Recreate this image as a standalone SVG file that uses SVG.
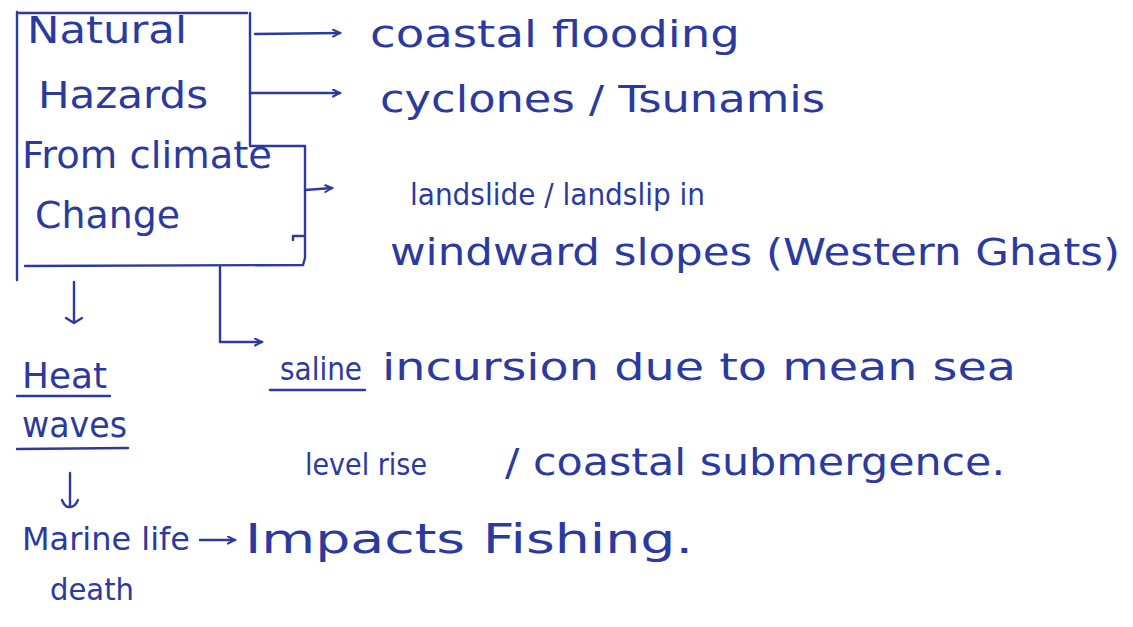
<svg xmlns="http://www.w3.org/2000/svg" width="1133" height="627" viewBox="0 0 1133 627">
  <defs>
    <marker id="arr" markerWidth="10" markerHeight="10" refX="8" refY="4" orient="auto" markerUnits="userSpaceOnUse">
      <path d="M1,0.5 L8,4 L1,7.5" fill="none" stroke="#2b3a9e" stroke-width="2" stroke-linecap="round"/>
    </marker>
  </defs>
  <style>
    .ink { fill: none; stroke: #2b3a9e; stroke-width: 2.4; stroke-linecap: round; stroke-linejoin: round; }
    .t { font-family: "DejaVu Sans", "Liberation Sans", sans-serif; font-size: 38px; fill: #2b3a9e; }
  </style>
  <rect width="1133" height="627" fill="#ffffff"/>

  <g id="node-hazards">
    <path class="ink" d="M17,280 L17,12 M17,13 L247,13 M250,13 L250,145 M250,146 L305,146 L305,258 L303,265 L25,266 M293,240 L293,236 L304,236"/>
    <text class="t" x="27" y="43" textLength="160" lengthAdjust="spacingAndGlyphs">Natural</text>
    <text class="t" x="38" y="108" textLength="170" lengthAdjust="spacingAndGlyphs">Hazards</text>
    <text class="t" x="22" y="168" textLength="250" lengthAdjust="spacingAndGlyphs">From climate</text>
    <text class="t" x="35" y="228" textLength="145" lengthAdjust="spacingAndGlyphs">Change</text>
  </g>

  <g id="node-coastal-flooding">
    <text class="t" x="370" y="47" textLength="370" lengthAdjust="spacingAndGlyphs">coastal flooding</text>
  </g>
  <g id="node-cyclones">
    <text class="t" x="380" y="112" textLength="445" lengthAdjust="spacingAndGlyphs">cyclones / Tsunamis</text>
  </g>
  <g id="node-landslide">
    <text class="t" x="410" y="205" style="font-size:30px" textLength="295" lengthAdjust="spacingAndGlyphs">landslide / landslip in</text>
    <text class="t" x="390" y="265" textLength="730" lengthAdjust="spacingAndGlyphs">windward slopes (Western Ghats)</text>
  </g>
  <g id="node-saline">
    <text class="t" x="280" y="380" style="font-size:32px" textLength="82" lengthAdjust="spacingAndGlyphs">saline</text>
    <path class="ink" d="M270,390 L365,390"/>
    <text class="t" x="382" y="380" textLength="634" lengthAdjust="spacingAndGlyphs">incursion due to mean sea</text>
    <text class="t" x="305" y="475" style="font-size:30px" textLength="122" lengthAdjust="spacingAndGlyphs">level rise</text>
    <text class="t" x="505" y="475" textLength="500" lengthAdjust="spacingAndGlyphs">/ coastal submergence.</text>
  </g>
  <g id="node-heatwaves">
    <text class="t" x="22" y="388" style="font-size:36px" textLength="85" lengthAdjust="spacingAndGlyphs">Heat</text>
    <path class="ink" d="M17,396 L110,396"/>
    <text class="t" x="22" y="437" style="font-size:35px" textLength="105" lengthAdjust="spacingAndGlyphs">waves</text>
    <path class="ink" d="M17,449 L128,448"/>
  </g>
  <g id="node-marine">
    <text class="t" x="22" y="550" style="font-size:32px" textLength="168" lengthAdjust="spacingAndGlyphs">Marine life</text>
    <text class="t" x="50" y="600" style="font-size:31px" textLength="84" lengthAdjust="spacingAndGlyphs">death</text>
  </g>
  <g id="node-fishing">
    <text class="t" x="245" y="553" style="font-size:41px" textLength="448" lengthAdjust="spacingAndGlyphs">Impacts Fishing.</text>
  </g>

  <g id="connectors">
    <path class="ink" d="M255,34 L340,33" marker-end="url(#arr)"/>
    <path class="ink" d="M250,93 L340,93" marker-end="url(#arr)"/>
    <path class="ink" d="M305,190 L332,188" marker-end="url(#arr)"/>
    <path class="ink" d="M74,282 L74,322 M66,318 L74,323 L82,318"/>
    <path class="ink" d="M220,267 L220,342 L262,342" marker-end="url(#arr)"/>
    <path class="ink" d="M70,473 L70,506 M62,500 Q65,508 70,507 Q75,507 78,500"/>
    <path class="ink" d="M200,540 L235,540" marker-end="url(#arr)"/>
  </g>
</svg>
